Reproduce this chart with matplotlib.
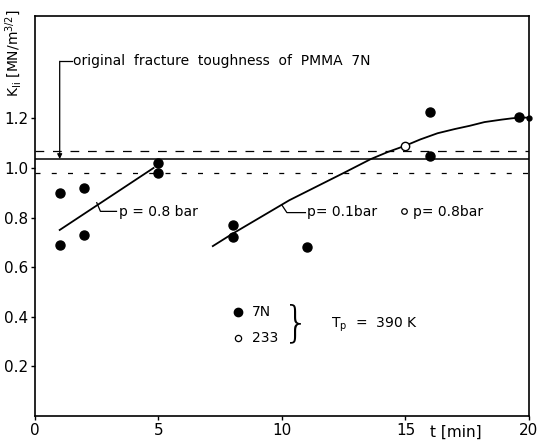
import numpy as np
import matplotlib
matplotlib.use("Agg")
import matplotlib.pyplot as plt

# fracture toughness of PMMA 7N after healing time t
t_7n = [1, 1, 2, 2, 5, 5, 8, 8, 11, 16, 16, 19.6]
k_7n = [0.90, 0.69, 0.92, 0.73, 1.02, 0.98, 0.77, 0.72, 0.68, 1.225, 1.05, 1.205]
t_233 = [15]
k_233 = [1.09]

# hand-drawn trend lines
fit08_t = [1.0, 4.8]
fit08_k = [0.75, 1.00]
fit01_t = [7.2, 8.0, 10.3, 11.5, 12.5, 13.6, 14.3, 15.0, 15.6, 16.3,
           17.0, 17.6, 18.2, 18.9, 19.3, 19.6, 20.0]
fit01_k = [0.685, 0.735, 0.87, 0.93, 0.98, 1.036, 1.065, 1.09, 1.115, 1.14,
           1.157, 1.17, 1.185, 1.195, 1.20, 1.203, 1.203]

k_orig = 1.036
k_orig_hi = 1.07
k_orig_lo = 0.98

x_ticks = [0, 5, 10, 15, 20]
y_ticks = [0.2, 0.4, 0.6, 0.8, 1.0, 1.2]
y_tick_labels = ["0.2", "0.4", "0.6", "0.8", "1.0", "1.2"]

plt.rcParams['font.family'] = ['DejaVu Sans']
plt.rcParams['font.size'] = 10

fig = plt.figure(figsize=(5.41, 4.45), dpi=100)
ax = fig.add_axes([0.0647, 0.0652, 0.913, 0.899])

ax.axhline(k_orig, color='black', lw=1.1)
ax.axhline(k_orig_hi, color='black', lw=0.9, dashes=(7, 7))
ax.axhline(k_orig_lo, color='black', lw=0.9, dashes=(4, 9))

ax.plot(fit08_t, fit08_k, color='black', lw=1.3)
ax.plot(fit01_t, fit01_k, color='black', lw=1.3)

ax.plot(t_7n, k_7n, 'o', color='black', ms=6.5, clip_on=False)
ax.plot([20], [1.203], 'o', color='black', ms=3.5, clip_on=False)
ax.plot(t_233, k_233, 'o', mfc='white', mec='black', mew=1.0, ms=6, zorder=5)

# labels on the trend lines
ax.plot([2.5, 2.65, 3.3], [0.86, 0.825, 0.825], color='black', lw=0.9)
ax.text(3.4, 0.823, "p = 0.8 bar", va='center', ha='left', fontsize=10)
ax.plot([10.0, 10.2, 10.95], [0.85, 0.82, 0.82], color='black', lw=0.9)
ax.text(11.0, 0.823, "p= 0.1bar", va='center', ha='left', fontsize=10)
ax.plot([14.95], [0.825], 'o', mfc='white', mec='black', mew=0.9, ms=4)
ax.text(15.3, 0.823, "p= 0.8bar", va='center', ha='left', fontsize=10)

# original toughness note
ax.annotate("", xy=(1.0, k_orig), xytext=(1.0, 1.43),
            arrowprops=dict(arrowstyle='-|>', color='black', lw=0.9,
                            mutation_scale=7, shrinkA=0, shrinkB=0))
ax.plot([1.0, 1.5], [1.43, 1.43], color='black', lw=0.9)
ax.text(1.55, 1.43, "original  fracture  toughness  of  PMMA  7N",
        va='center', ha='left', fontsize=10)

# legend block
ax.plot([8.2], [0.42], 'o', color='black', ms=6)
ax.text(8.8, 0.42, "7N", va='center', ha='left', fontsize=10)
ax.plot([8.2], [0.315], 'o', mfc='white', mec='black', mew=0.9, ms=4.5)
ax.text(8.8, 0.315, "233", va='center', ha='left', fontsize=10)
ax.text(10.05, 0.37, "}", va='center', ha='left', fontsize=30,
        fontweight='light')
ax.text(12.0, 0.368, "$\\mathregular{T_p}$  =  390 K", va='center', ha='left',
        fontsize=10)

ax.set_xlim(0, 20)
ax.set_ylim(0, 1.613)
ax.set_xticks(x_ticks)
ax.set_yticks(y_ticks)
ax.set_yticklabels(y_tick_labels)
ax.tick_params(direction='out', length=3, width=1, pad=2, labelsize=11)
for sp in ax.spines.values():
    sp.set_linewidth(1.2)

fig.text(0.026, 0.98, "K$_{\\mathregular{Ii}}$ [MN/m$^{\\mathregular{3/2}}$]",
         rotation=90, va='top', ha='center', fontsize=10)
fig.text(0.843, 0.012, "t [min]", ha='center', va='bottom', fontsize=11)

fig.savefig("out.png", dpi=100)
